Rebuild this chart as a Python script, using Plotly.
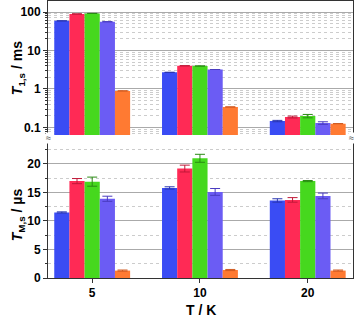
import plotly.graph_objects as go

temps = ["5", "10", "20"]
series = ["s1", "s2", "s3", "s4", "s5"]
colors = ["#3a4cf4", "#ff2a55", "#46d81e", "#6b5cf4", "#ff7a32"]
err_colors = ["#2a36b0", "#c01838", "#2a8a14", "#4a3cc0", "#d05a20"]

# T1,s / ms (top panel, log scale)
t1 = [
    [59, 2.7, 0.146],
    [89, 4.0, 0.186],
    [92, 3.95, 0.197],
    [56, 3.2, 0.130],
    [0.89, 0.34, 0.125],
]
t1_err = [
    [0, 0, 0.006],
    [0, 0, 0.01],
    [0, 0, 0.02],
    [0, 0, 0.01],
    [0, 0, 0],
]

# TM,s / us (bottom panel)
tm = [
    [11.5, 15.8, 13.6],
    [17.0, 19.2, 13.7],
    [16.9, 21.0, 17.0],
    [13.9, 15.1, 14.4],
    [1.3, 1.4, 1.3],
]
tm_err = [
    [0.1, 0.2, 0.3],
    [0.45, 0.6, 0.4],
    [0.8, 0.7, 0.1],
    [0.45, 0.6, 0.5],
    [0.1, 0.1, 0.1],
]

fig = go.Figure()
for i in range(5):
    fig.add_trace(go.Bar(
        x=temps, y=t1[i], xaxis="x2", yaxis="y2",
        marker=dict(color=colors[i], line=dict(width=0)),
        error_y=dict(type="data", array=t1_err[i], color=err_colors[i],
                     thickness=1, width=5, visible=True),
        showlegend=False,
    ))
for i in range(5):
    fig.add_trace(go.Bar(
        x=temps, y=tm[i], xaxis="x", yaxis="y",
        marker=dict(color=colors[i], line=dict(width=0)),
        error_y=dict(type="data", array=tm_err[i], color=err_colors[i],
                     thickness=1, width=5, visible=True),
        showlegend=False,
    ))

font_main = "Liberation Sans, Arial, sans-serif"
xr = [-0.41, 2.42]

fig.update_layout(
    width=357, height=317,
    margin=dict(l=48, r=4, t=1, b=39, autoexpand=False),
    paper_bgcolor="white", plot_bgcolor="white",
    barmode="group", bargap=0.296, bargroupgap=0,
    font=dict(family=font_main, size=12, color="black"),
    xaxis=dict(
        domain=[0, 1], anchor="y", type="category", range=xr,
        automargin=False,
        showline=True, linecolor="#333", linewidth=1,
        ticks="outside", ticklen=4, tickcolor="#333",
        tickfont=dict(size=12, family=font_main, weight="bold"),
        showgrid=False,
    ),
    yaxis=dict(
        domain=[0, 0.498], anchor="x", range=[0, 24.2],
        automargin=False,
        tickvals=[0, 5, 10, 15, 20],
        showline=True, mirror=True, linecolor="#333", linewidth=1,
        ticks="outside", ticklen=4, tickcolor="#333",
        tickfont=dict(size=12, weight="bold"),
        showgrid=True, gridcolor="#aaaaaa", gridwidth=1,
        zeroline=False,
        minor=dict(dtick=2.5, tick0=0, ticks="outside", ticklen=2,
                   tickcolor="#333", showgrid=True, gridcolor="#cccccc",
                   griddash="dot"),
    ),
    xaxis2=dict(
        domain=[0, 1], anchor="y2", type="category", range=xr,
        automargin=False,
        matches="x", side="top",
        showline=True, linecolor="#333", linewidth=1,
        ticks="", showticklabels=False, showgrid=False,
    ),
    yaxis2=dict(
        domain=[0.516, 1], anchor="x2", type="log",
        range=[-1.2, 2.287],
        automargin=False,
        tickvals=[0.1, 1, 10, 100], ticktext=["0.1", "1", "10", "100"],
        showline=True, mirror=True, linecolor="#333", linewidth=1,
        ticks="outside", ticklen=4, tickcolor="#333",
        tickfont=dict(size=12, weight="bold"),
        showgrid=True, gridcolor="#aaaaaa", gridwidth=1,
        zeroline=False,
        minor=dict(dtick="D1", ticks="outside", ticklen=2,
                   tickcolor="#333", showgrid=True, gridcolor="#cccccc",
                   griddash="dot"),
    ),
)

fig.add_annotation(
    x=-0.098, y=0.758, xref="paper", yref="paper",
    text="<b><i>T</i><sub>1,s</sub> / ms</b>", showarrow=False,
    font=dict(size=14), textangle=-90,
    xanchor="center", yanchor="middle",
)
fig.add_annotation(
    x=-0.098, y=0.227, xref="paper", yref="paper",
    text="<b><i>T</i><sub>M,s</sub> / µs</b>", showarrow=False,
    font=dict(size=14), textangle=-90,
    xanchor="center", yanchor="middle",
)
fig.add_annotation(
    x=0.5, y=-0.115, xref="paper", yref="paper",
    text="<b>T / K</b>", showarrow=False, font=dict(size=14),
    xanchor="center", yanchor="middle",
)

for xp in [0, 0.995]:
    fig.add_annotation(
        x=xp, y=0.507, xref="paper", yref="paper",
        text="≈", showarrow=False, font=dict(size=9, color="#333"),
        bgcolor="white", xanchor="center", yanchor="middle",
        borderpad=0,
    )

fig.write_html(
    "out.html",
    config={"displayModeBar": False},
    post_script="document.body.style.margin='0';document.body.style.padding='0';",
)
